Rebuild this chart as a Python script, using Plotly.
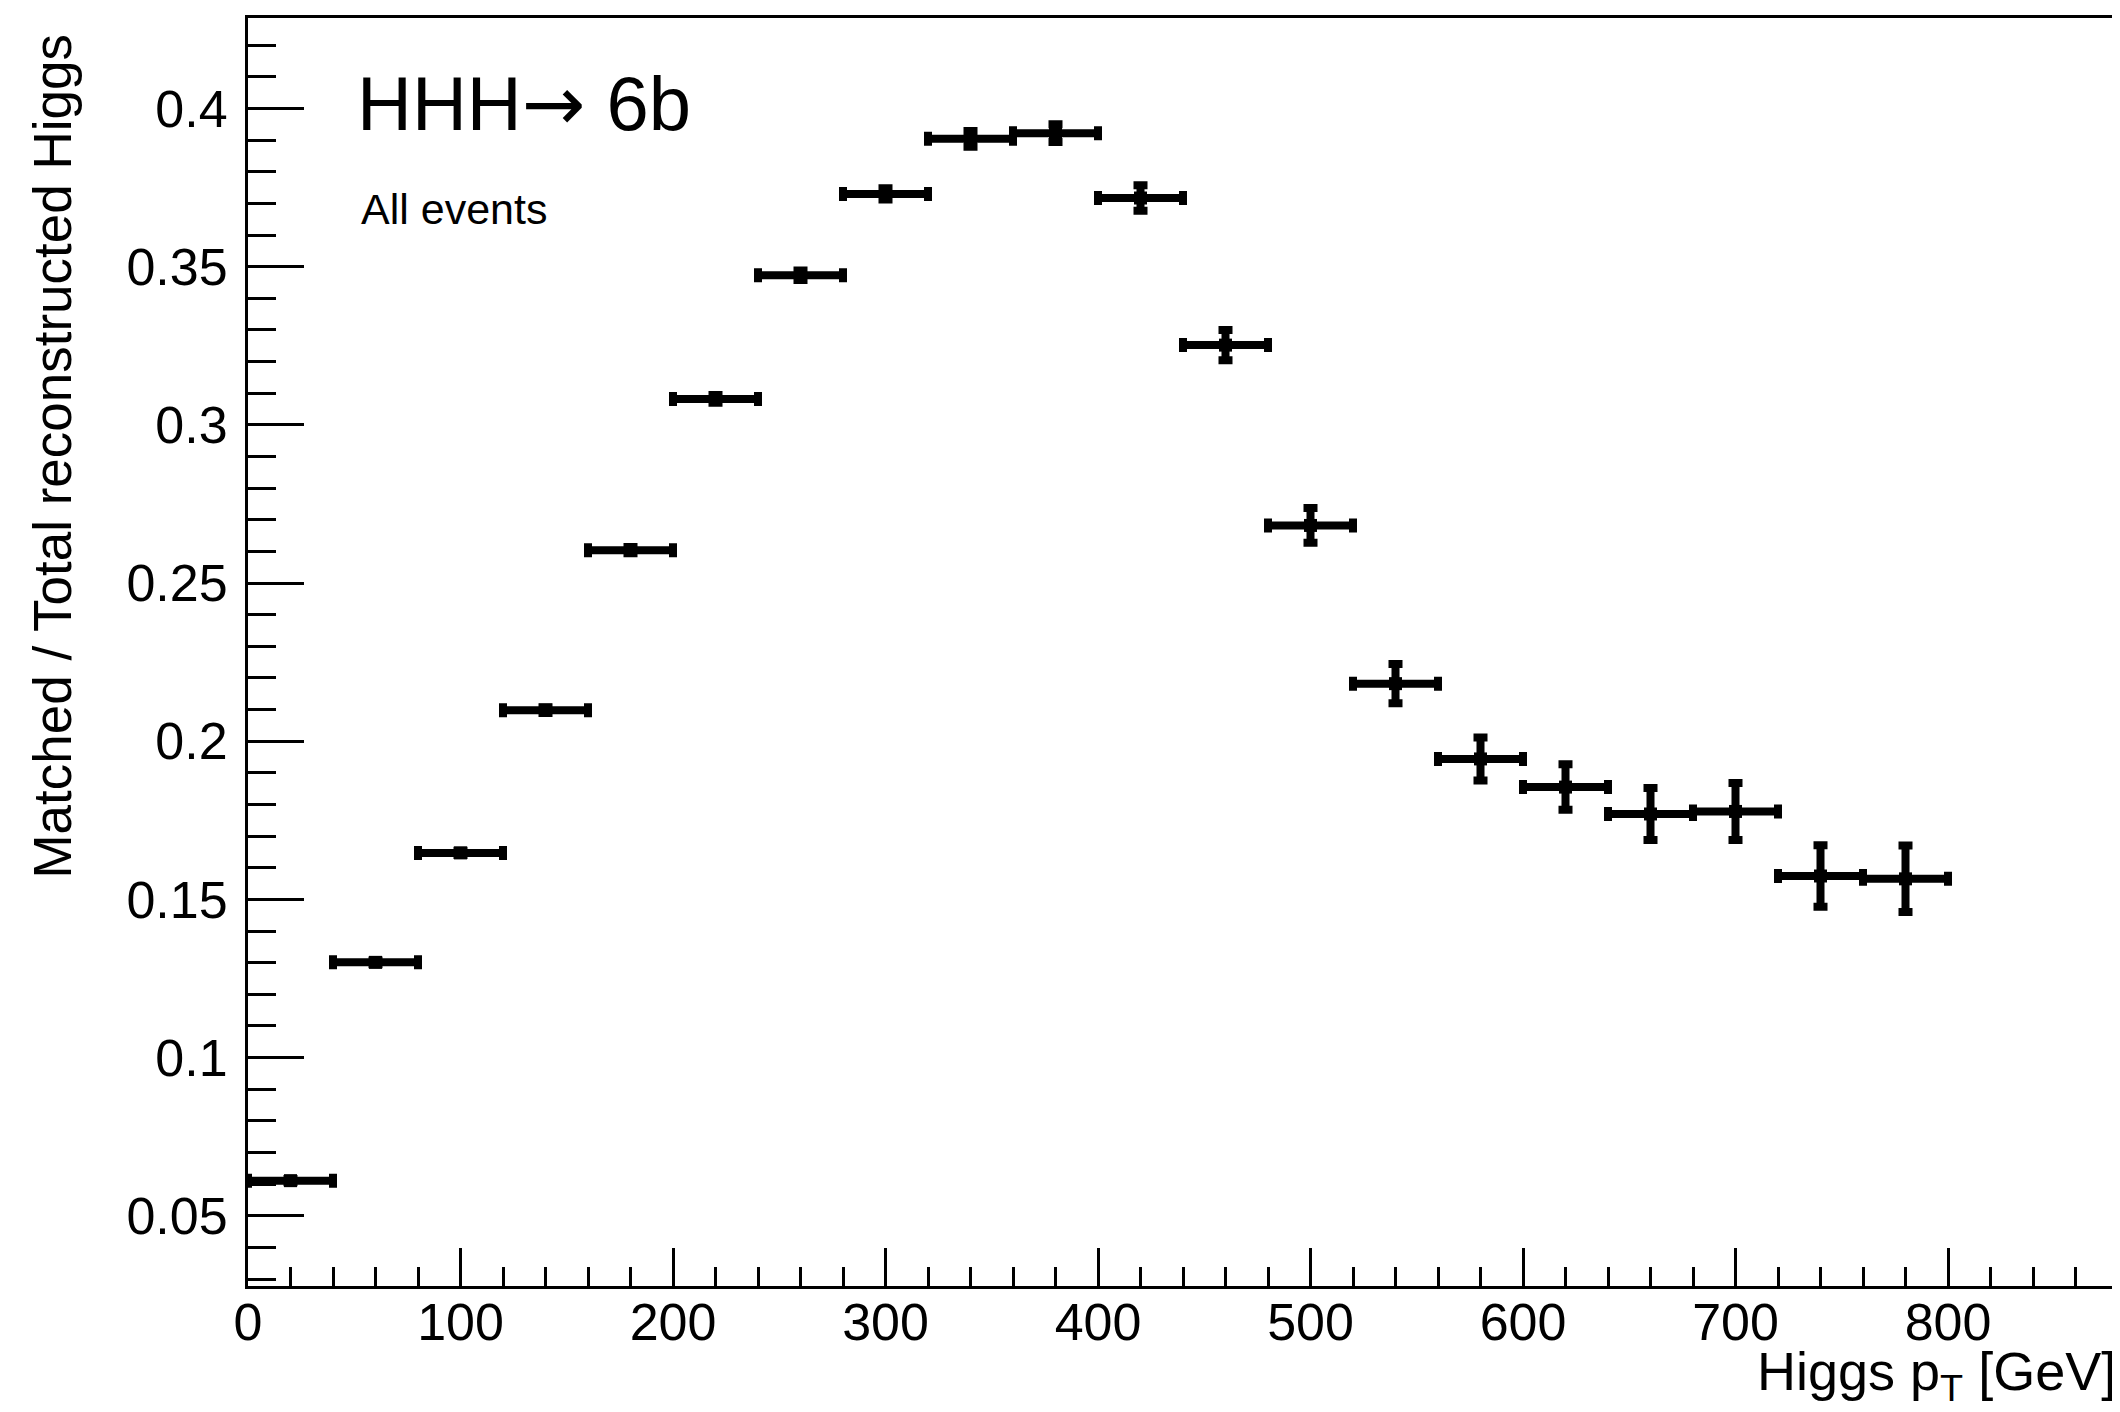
import plotly.graph_objects as go

# Bin centers (GeV), bin half-width 20 GeV
pt_centers = [20, 60, 100, 140, 180, 220, 260, 300, 340, 380,
              420, 460, 500, 540, 580, 620, 660, 700, 740, 780]
bin_halfwidth = [20] * 20
ratio = [0.0611, 0.1301, 0.1647, 0.2098, 0.2604, 0.3082, 0.3473, 0.3730, 0.3904, 0.3922,
         0.3717, 0.3252, 0.2682, 0.2182, 0.1944, 0.1855, 0.1770, 0.1778, 0.1574, 0.1565]
ratio_err = [0.0005, 0.0006, 0.0007, 0.0009, 0.0010, 0.0012, 0.0015, 0.0018, 0.0025, 0.0028,
             0.0040, 0.0048, 0.0055, 0.0062, 0.0068, 0.0072, 0.0082, 0.0090, 0.0097, 0.0105]

x_ticks = [0, 100, 200, 300, 400, 500, 600, 700, 800]
y_ticks = [0.05, 0.1, 0.15, 0.2, 0.25, 0.3, 0.35, 0.4]
y_ticktext = ["0.05", "0.1", "0.15", "0.2", "0.25", "0.3", "0.35", "0.4"]

FONT = "Liberation Sans, Arial, Helvetica, sans-serif"

fig = go.Figure()
fig.add_trace(go.Scatter(
    x=pt_centers, y=ratio, mode="markers",
    marker=dict(symbol="square", size=13, color="black"),
    error_x=dict(type="data", array=bin_halfwidth, symmetric=True,
                 color="black", thickness=8, width=7),
    error_y=dict(type="data", array=ratio_err, symmetric=True,
                 color="black", thickness=8, width=7),
    showlegend=False,
))

fig.update_layout(
    width=2120, height=1412,
    margin=dict(l=240, r=8, t=7, b=134),
    paper_bgcolor="white", plot_bgcolor="white",
    font=dict(family=FONT, color="black", size=53),
)

fig.update_xaxes(
    range=[0, 880], showgrid=False, zeroline=False,
    showline=True, linewidth=3, linecolor="black", mirror=True,
    ticks="inside", ticklen=38, tickwidth=3, tickcolor="black",
    tickvals=x_ticks, ticklabelstandoff=-11,
    tickfont=dict(size=52, family=FONT),
    minor=dict(ticks="inside", ticklen=19, tickwidth=3, tickcolor="black", dtick=20, tick0=0),
)
fig.update_yaxes(
    range=[0.0278, 0.4286], showgrid=False, zeroline=False,
    showline=True, linewidth=3, linecolor="black", mirror=True,
    ticks="inside", ticklen=56, tickwidth=3, tickcolor="black",
    tickvals=y_ticks, ticktext=y_ticktext, ticklabelstandoff=7,
    tickfont=dict(size=52, family=FONT),
    minor=dict(ticks="inside", ticklen=28, tickwidth=3, tickcolor="black", dtick=0.01, tick0=0),
)

# Axis titles (ROOT style, aligned to axis ends)
fig.add_annotation(
    text="Higgs p<sub>T</sub> [GeV]", xref="paper", yref="paper",
    x=1.0, y=-0.0415, xanchor="right", yanchor="top", showarrow=False,
    font=dict(size=54, family=FONT, color="black"),
)
fig.add_annotation(
    text="Matched / Total reconstructed Higgs", xref="paper", yref="paper",
    x=-0.1045, y=0.9894, xanchor="center", yanchor="top", textangle=-90,
    showarrow=False, font=dict(size=53, family=FONT, color="black"),
)

# Labels inside the frame
fig.add_annotation(
    text="HHH<span style=\"font-family:'DejaVu Sans'\">→</span> 6b",
    xref="x", yref="y", x=50.3, y=0.4015,
    xanchor="left", yanchor="middle", showarrow=False,
    font=dict(size=76, family=FONT, color="black"),
)
fig.add_annotation(
    text="All events", xref="x", yref="y", x=52.4, y=0.3681,
    xanchor="left", yanchor="middle", showarrow=False,
    font=dict(size=43, family=FONT, color="black"),
)

fig.write_html("out.html")
